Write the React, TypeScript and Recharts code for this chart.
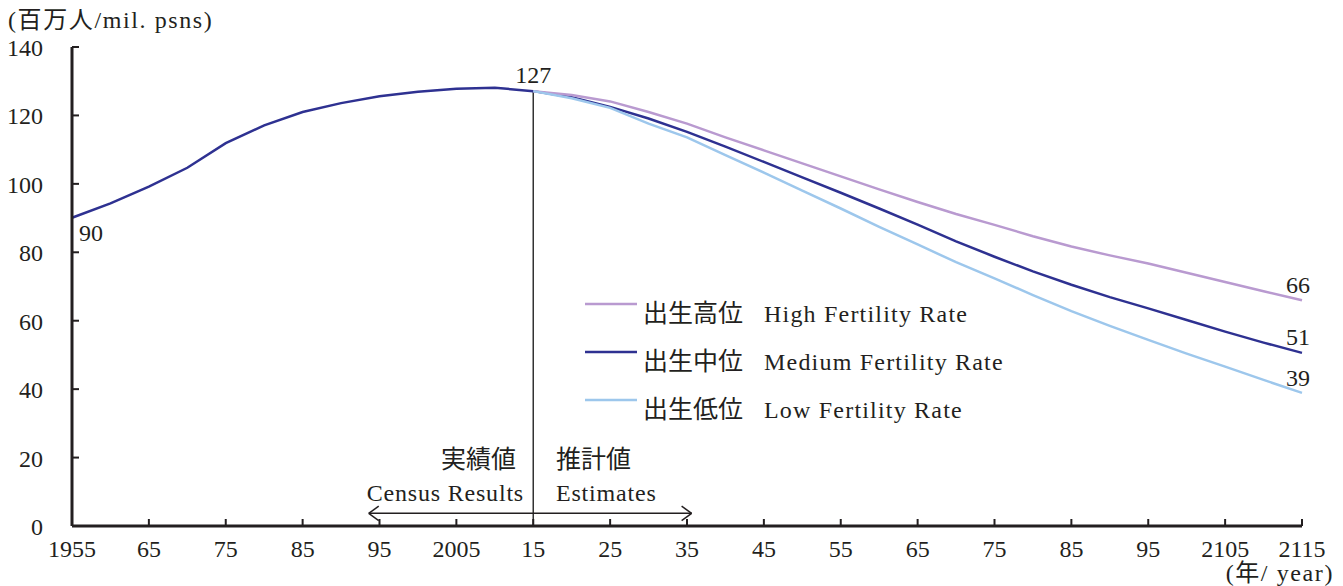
import { LabelList, Line, LineChart, ReferenceLine, XAxis, YAxis } from 'recharts'

const FONT = '"Liberation Serif", "Noto Sans CJK JP", serif'
const AXIS = '#231f20'

const years = [
  1955, 1960, 1965, 1970, 1975, 1980, 1985, 1990, 1995, 2000, 2005, 2010, 2015, 2020, 2025, 2030,
  2035, 2040, 2045, 2050, 2055, 2060, 2065, 2070, 2075, 2080, 2085, 2090, 2095, 2100, 2105, 2110,
  2115,
]
// 1955-2015 census results
const censusPop = [90.1, 94.3, 99.2, 104.7, 111.9, 117.1, 121.0, 123.6, 125.6, 126.9, 127.8, 128.1, 127.1]
// 2015-2115 projections
const mediumProj = [
  127.1, 125.3, 122.5, 119.1, 115.2, 110.9, 106.4, 101.9, 97.4, 92.8, 88.1, 83.2, 78.7, 74.4, 70.5,
  66.9, 63.6, 60.2, 56.8, 53.6, 50.6,
]
const highProj = [
  127.1, 126.0, 124.1, 121.0, 117.6, 113.6, 109.8, 106.0, 102.2, 98.4, 94.7, 91.2, 88.0, 84.7, 81.7,
  79.1, 76.7, 74.0, 71.3, 68.6, 66.0,
]
const lowProj = [
  127.1, 125.0, 122.2, 117.6, 113.6, 108.4, 103.3, 98.0, 92.8, 87.4, 82.3, 77.1, 72.4, 67.5, 62.8,
  58.5, 54.4, 50.4, 46.6, 42.7, 38.9,
]

const xTicks = [1955, 1965, 1975, 1985, 1995, 2005, 2015, 2025, 2035, 2045, 2055, 2065, 2075, 2085, 2095, 2105, 2115]
const xTickLabels = ['1955', '65', '75', '85', '95', '2005', '15', '25', '35', '45', '55', '65', '75', '85', '95', '2105', '2115']
const yTicks = [0, 20, 40, 60, 80, 100, 120, 140]

const scenarioJa = ['出生高位', '出生中位', '出生低位']
const scenarioEn = ['High Fertility Rate', 'Medium Fertility Rate', 'Low Fertility Rate']
const scenarioColors = ['#b99ad0', '#2e3191', '#9dc7ec']

const PROJ_START = censusPop.length - 1

const data = years.map((year, i) => ({
  year,
  medium: i < PROJ_START ? censusPop[i] : mediumProj[i - PROJ_START],
  high: i >= PROJ_START ? highProj[i - PROJ_START] : null,
  low: i >= PROJ_START ? lowProj[i - PROJ_START] : null,
}))

function XTick({ x, y, payload, index }: any) {
  return (
    <g>
      <line x1={x} x2={x} y1={y} y2={y - 7} stroke={AXIS} strokeWidth={2} />
      <text x={x} y={y + 31} textAnchor="middle" fontSize={24} fill="#231f20" fontFamily={FONT}>
        {xTickLabels[index] ?? payload.value}
      </text>
    </g>
  )
}

function YTick({ x, y, payload }: any) {
  return (
    <g>
      <line x1={x} x2={x + 7} y1={y} y2={y} stroke={AXIS} strokeWidth={2} />
      <text x={x - 29} y={y + 9} textAnchor="end" fontSize={24} fill="#231f20" fontFamily={FONT}>
        {payload.value}
      </text>
    </g>
  )
}

// only a few points of the curves carry a value label
function PointLabel({ x, y, value, index }: any) {
  if (value == null) return null
  if (index === 0) {
    return (
      <text x={x + 7} y={y + 23} fontSize={24} fill="#231f20" fontFamily={FONT}>
        {Math.round(value)}
      </text>
    )
  }
  if (index === PROJ_START) {
    return (
      <text x={x} y={y - 8} textAnchor="middle" fontSize={24} fill="#231f20" fontFamily={FONT}>
        {Math.round(value)}
      </text>
    )
  }
  if (index === years.length - 1) {
    return (
      <text x={x - 4} y={y - 8} textAnchor="middle" fontSize={24} fill="#231f20" fontFamily={FONT}>
        {Math.round(value)}
      </text>
    )
  }
  return null
}

function EndLabel({ x, y, value, index }: any) {
  if (value == null || index !== years.length - 1) return null
  return (
    <text x={x - 4} y={y - 7} textAnchor="middle" fontSize={24} fill="#231f20" fontFamily={FONT}>
      {Math.round(value)}
    </text>
  )
}

export default function App() {
  return (
    <div style={{ position: 'relative', width: 1343, height: 586, background: '#fff', fontFamily: FONT }}>
      <style>{'body{margin:0}'}</style>
      <LineChart width={1343} height={586} data={data} margin={{ top: 47, right: 41, left: 0, bottom: 0 }}>
        <XAxis
          dataKey="year"
          type="number"
          domain={[1955, 2115]}
          ticks={xTicks}
          interval={0}
          height={60}
          axisLine={{ stroke: AXIS, strokeWidth: 3 }}
          tickLine={false}
          tickSize={0}
          tickMargin={0}
          tick={<XTick />}
        />
        <YAxis
          domain={[0, 140]}
          ticks={yTicks}
          width={72}
          axisLine={{ stroke: AXIS, strokeWidth: 3 }}
          tickLine={false}
          tickSize={0}
          tickMargin={0}
          tick={<YTick />}
        />
        <ReferenceLine
          segment={[
            { x: 2015, y: 0 },
            { x: 2015, y: 127.1 },
          ]}
          stroke="#333"
          strokeWidth={1.5}
        />
        {/* census / estimates double arrow */}
        <ReferenceLine segment={[{ x: 1993.6, y: 3.7 }, { x: 2035.6, y: 3.7 }]} stroke="#231f20" strokeWidth={1.5} />
        <ReferenceLine segment={[{ x: 1993.6, y: 3.7 }, { x: 1994.9, y: 5.8 }]} stroke="#231f20" strokeWidth={1.5} />
        <ReferenceLine segment={[{ x: 1993.6, y: 3.7 }, { x: 1994.9, y: 1.6 }]} stroke="#231f20" strokeWidth={1.5} />
        <ReferenceLine segment={[{ x: 2035.6, y: 3.7 }, { x: 2034.3, y: 5.8 }]} stroke="#231f20" strokeWidth={1.5} />
        <ReferenceLine segment={[{ x: 2035.6, y: 3.7 }, { x: 2034.3, y: 1.6 }]} stroke="#231f20" strokeWidth={1.5} />
        <Line
          dataKey="medium"
          stroke={scenarioColors[1]}
          strokeWidth={2.5}
          dot={false}
          isAnimationActive={false}
        >
          <LabelList dataKey="medium" content={<PointLabel />} />
        </Line>
        <Line
          dataKey="high"
          stroke={scenarioColors[0]}
          strokeWidth={2.5}
          dot={false}
          connectNulls={false}
          isAnimationActive={false}
        >
          <LabelList dataKey="high" content={<EndLabel />} />
        </Line>
        <Line
          dataKey="low"
          stroke={scenarioColors[2]}
          strokeWidth={2.5}
          dot={false}
          connectNulls={false}
          isAnimationActive={false}
        >
          <LabelList dataKey="low" content={<EndLabel />} />
        </Line>
      </LineChart>

      <svg
        width={1343}
        height={586}
        style={{ position: 'absolute', left: 0, top: 0, pointerEvents: 'none' }}
        fontFamily={FONT}
        fill="#231f20"
      >
        <text x={8} y={28} fontSize={24} letterSpacing={1.6}>
          (百万人/mil. psns)
        </text>
        <text x={1334} y={581} fontSize={24} textAnchor="end" letterSpacing={1.6}>
          (年/ year)
        </text>
        <text x={516} y={468} fontSize={25} textAnchor="end">
          実績値
        </text>
        <text x={524} y={501} fontSize={24} textAnchor="end" letterSpacing={0.8}>
          Census Results
        </text>
        <text x={556} y={468} fontSize={25}>
          推計値
        </text>
        <text x={556} y={501} fontSize={24} letterSpacing={0.8}>
          Estimates
        </text>
        {scenarioJa.map((ja, i) => (
          <g key={ja}>
            <line x1={585} x2={637} y1={304 + i * 48} y2={304 + i * 48} stroke={scenarioColors[i]} strokeWidth={2.5} />
            <text x={643} y={322 + i * 48} fontSize={25}>
              {ja}
            </text>
            <text x={764} y={322 + i * 48} fontSize={24} letterSpacing={1.2}>
              {scenarioEn[i]}
            </text>
          </g>
        ))}
      </svg>
    </div>
  )
}
